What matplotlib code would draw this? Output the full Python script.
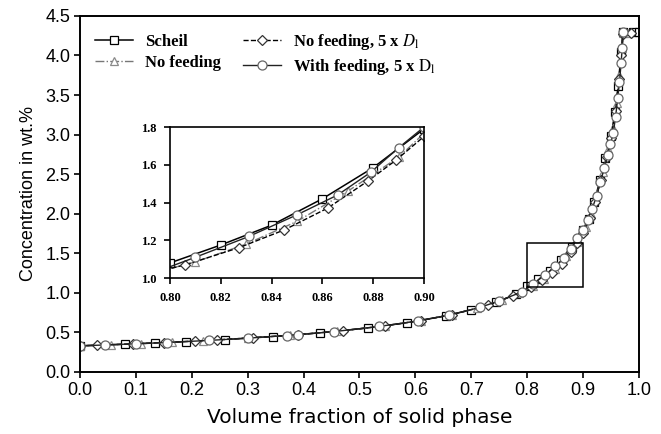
import matplotlib
matplotlib.use('Agg')
import matplotlib.pyplot as plt
from matplotlib.patches import Rectangle

plt.rcParams['mathtext.fontset'] = 'stix'

# ---- data ----
fs_scheil = [0.0, 0.08, 0.135, 0.19, 0.26, 0.345, 0.43, 0.515, 0.585, 0.655, 0.70,
             0.745, 0.78, 0.80, 0.82, 0.84, 0.86, 0.88, 0.90, 0.91, 0.92, 0.93,
             0.94, 0.95, 0.957, 0.963, 0.968, 0.971, 0.99, 1.0]
c_scheil = [0.33, 0.35, 0.366, 0.384, 0.41, 0.447, 0.495, 0.556, 0.622, 0.71, 0.786,
            0.883, 0.98, 1.08, 1.175, 1.28, 1.42, 1.585, 1.79, 1.93, 2.15, 2.42,
            2.70, 2.98, 3.28, 3.62, 4.05, 4.30, 4.30, 4.30]

fs_nofeed = [0.0, 0.055, 0.11, 0.165, 0.22, 0.30, 0.375, 0.46, 0.545, 0.61, 0.665,
             0.71, 0.755, 0.785, 0.81, 0.83, 0.85, 0.87, 0.89, 0.905, 0.915, 0.925,
             0.935, 0.945, 0.953, 0.96, 0.965, 0.969, 0.972, 0.98]
c_nofeed = [0.33, 0.344, 0.359, 0.376, 0.395, 0.427, 0.463, 0.514, 0.582, 0.65, 0.725,
            0.805, 0.908, 0.998, 1.085, 1.18, 1.30, 1.46, 1.64, 1.83, 2.0, 2.25,
            2.53, 2.82, 3.08, 3.40, 3.75, 4.10, 4.28, 4.28]

fs_nofeed5 = [0.0, 0.03, 0.095, 0.15, 0.205, 0.245, 0.31, 0.39, 0.47, 0.545, 0.61,
              0.665, 0.73, 0.775, 0.806, 0.827, 0.845, 0.862, 0.878, 0.889, 0.90,
              0.912, 0.922, 0.932, 0.942, 0.95, 0.958, 0.964, 0.968, 0.972, 0.985]
c_nofeed5 = [0.33, 0.337, 0.355, 0.371, 0.39, 0.405, 0.433, 0.471, 0.521, 0.582, 0.65,
             0.725, 0.84, 0.966, 1.07, 1.16, 1.255, 1.37, 1.515, 1.625, 1.75,
             1.94, 2.15, 2.42, 2.72, 2.96, 3.30, 3.70, 4.00, 4.27, 4.28]

fs_feed5 = [0.0, 0.045, 0.10, 0.155, 0.23, 0.30, 0.37, 0.39, 0.455, 0.535, 0.605,
            0.66, 0.715, 0.75, 0.79, 0.81, 0.831, 0.85, 0.866, 0.879, 0.89, 0.90,
            0.908, 0.916, 0.924, 0.931, 0.938, 0.944, 0.949, 0.954, 0.958, 0.962,
            0.965, 0.968, 0.970, 0.972]
c_feed5 = [0.33, 0.341, 0.356, 0.372, 0.398, 0.427, 0.46, 0.471, 0.51, 0.575, 0.645,
           0.718, 0.815, 0.898, 1.01, 1.11, 1.22, 1.335, 1.44, 1.56, 1.69, 1.80,
           1.92, 2.06, 2.22, 2.40, 2.58, 2.74, 2.88, 3.02, 3.22, 3.46,
           3.66, 3.90, 4.10, 4.30]

labels = ['Scheil', 'No feeding',
          r'No feeding, 5 x $\mathit{D}_\mathrm{l}$',
          r'With feeding, 5 x $\mathrm{D}_\mathrm{l}$']
zoom_box = [0.80, 0.90, 1.07, 1.63]   # x0, x1, y0, y1

serif = 'Liberation Serif'
sans = 'Liberation Sans'


def draw_series(ax):
    ax.plot(fs_scheil, c_scheil, '-', color='black', lw=1.1, marker='s', ms=6,
            mfc='white', mec='black', mew=0.9, label=labels[0])
    ax.plot(fs_nofeed, c_nofeed, '-.', color='#777777', lw=1.0, marker='^', ms=6,
            mfc='white', mec='#8a8a8a', mew=0.9, label=labels[1])
    ax.plot(fs_nofeed5, c_nofeed5, '--', color='black', lw=1.0, marker='D', ms=5.5,
            mfc='white', mec='#333333', mew=0.9, label=labels[2])
    ax.plot(fs_feed5, c_feed5, '-', color='#222222', lw=1.0, marker='o', ms=6.5,
            mfc='white', mec='#666666', mew=0.9, label=labels[3])


fig = plt.figure(figsize=(6.61, 4.34), dpi=100)
ax = fig.add_axes([0.121, 0.143, 0.8457, 0.8203])
draw_series(ax)

ax.set_xlim(0, 1.0)
ax.set_ylim(0, 4.5)
ax.set_xticks([i / 10 for i in range(11)])
ax.set_yticks([i / 2 for i in range(10)])
ax.set_xticklabels(['%.1f' % (i / 10) for i in range(11)], family=sans, fontsize=13)
ax.set_yticklabels(['%.1f' % (i / 2) for i in range(10)], family=sans, fontsize=13)
ax.tick_params(direction='out', length=4, width=1.2, pad=3)
for s in ax.spines.values():
    s.set_linewidth(1.4)
ax.set_xlabel('Volume fraction of solid phase', family='DejaVu Sans', fontsize=14.5,
              labelpad=7)
ax.set_ylabel('Concentration in wt.%', family=sans, fontsize=13, labelpad=6)

x0, x1, y0, y1 = zoom_box
ax.add_patch(Rectangle((x0, y0), x1 - x0, y1 - y0, fill=False, ec='black', lw=1.1,
                       zorder=5))

leg = ax.legend(ncol=2, loc='upper left', bbox_to_anchor=(0.027, 0.955),
                frameon=False, borderaxespad=0, borderpad=0, handlelength=2.3,
                handletextpad=0.7, columnspacing=1.3, labelspacing=0.3, numpoints=1,
                prop={'family': serif, 'weight': 'bold', 'size': 12})

# inset
axi = fig.add_axes([0.2572, 0.3594, 0.3843, 0.3479])
draw_series(axi)
axi.set_xlim(0.80, 0.90)
axi.set_ylim(1.0, 1.8)
xt = [0.80, 0.82, 0.84, 0.86, 0.88, 0.90]
yt = [1.0, 1.2, 1.4, 1.6, 1.8]
axi.set_xticks(xt)
axi.set_yticks(yt)
axi.set_xticklabels(['%.2f' % v for v in xt], family=serif, weight='bold', fontsize=9)
axi.set_yticklabels(['%.1f' % v for v in yt], family=serif, weight='bold', fontsize=9)
axi.tick_params(direction='out', length=4, width=1.2, pad=6)
for s in axi.spines.values():
    s.set_linewidth(1.2)

fig.savefig('out.png', dpi=100)
